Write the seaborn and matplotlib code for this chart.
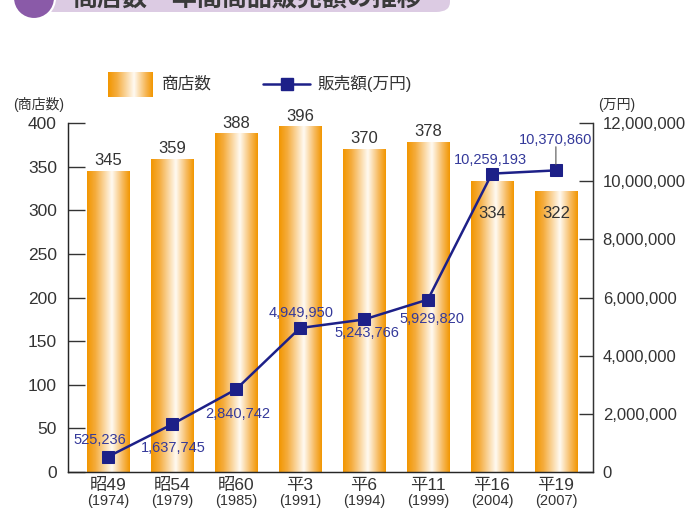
import numpy as np
import pandas as pd
import seaborn as sns
import matplotlib.pyplot as plt
from matplotlib.colors import LinearSegmentedColormap
from matplotlib.lines import Line2D
from matplotlib.patches import Ellipse, FancyBboxPatch
from matplotlib.ticker import FuncFormatter, FixedLocator

eras = ['昭49', '昭54', '昭60', '平3', '平6', '平11', '平16', '平19']
years = ['(1974)', '(1979)', '(1985)', '(1991)', '(1994)', '(1999)', '(2004)', '(2007)']
stores = [345, 359, 388, 396, 370, 378, 334, 322]
sales = [525236, 1637745, 2840742, 4949950, 5243766, 5929820, 10259193, 10370860]
# label offsets in points (dx, dy) for the sales labels
sales_offsets = [(-6, 12), (1, -17), (1, -18), (1, 11), (2, -10), (3, -14), (-1, 10), (0, 22)]

sns.set_style('white')
plt.rcParams['font.family'] = ['Liberation Sans', 'Noto Sans CJK JP', 'DejaVu Sans']

ORANGE = '#f29600'
NAVY = '#1d2088'
LABEL_BLUE = '#34399a'
GRAY = '#333333'
grad = LinearSegmentedColormap.from_list(
    'bar', [(0, ORANGE), (0.2, '#f5ad3f'), (0.58, '#fffaf2'), (0.85, '#f6b552'), (1, ORANGE)])

fig = plt.figure(figsize=(7, 5.08), dpi=100)
ax = fig.add_axes([68 / 700, 1 - 472 / 508, (593 - 68) / 700, (472 - 123) / 508])

df = pd.DataFrame({'era': eras, 'stores': stores})
sns.barplot(data=df, x='era', y='stores', ax=ax, width=0.66, color=ORANGE, saturation=1)

gimg = np.linspace(0, 1, 256).reshape(1, -1)
for p in list(ax.patches):
    x0, y0 = p.get_x(), p.get_y()
    w, h = p.get_width(), p.get_height()
    im = ax.imshow(gimg, cmap=grad, aspect='auto', extent=[x0, x0 + w, y0, y0 + h],
                   zorder=p.get_zorder())
    im.set_clip_path(p)
    p.set_facecolor('none')
    p.set_edgecolor('none')

ax.set_xlim(-0.625, 7.58)
ax.set_ylim(0, 400)
ax.set_yticks(range(0, 401, 50))
ax.set_xlabel('')
ax.set_ylabel('')
ax.set_xticks(range(len(eras)))
ax.set_xticklabels(eras, fontsize=12.5, color=GRAY)
ax.xaxis.set_minor_locator(FixedLocator(np.arange(0.5, 7, 1)))
ax.tick_params(axis='x', which='major', length=0, pad=4)
ax.tick_params(axis='x', which='minor', direction='in', length=5, width=1, color=GRAY)
ax.tick_params(axis='y', direction='in', length=12, width=1, pad=8, labelsize=12.5,
               color=GRAY, labelcolor=GRAY, left=True)
for i, y in enumerate(years):
    ax.annotate(y, (i, 0), xycoords=('data', 'axes fraction'), xytext=(0, -21),
                textcoords='offset points', ha='center', va='center', fontsize=10.5, color=GRAY)

ax.spines['top'].set_visible(False)
for s in ['left', 'bottom', 'right']:
    ax.spines[s].set_color(GRAY)
    ax.spines[s].set_linewidth(1)

for i, v in enumerate(stores):
    if i < 6:
        ax.annotate(str(v), (i, v), xytext=(0, 2), textcoords='offset points',
                    ha='center', va='bottom', fontsize=12, color=GRAY)
    else:
        ax.annotate(str(v), (i, 296), ha='center', va='center', fontsize=12, color=GRAY)

ax2 = ax.twinx()
ax2.set_position(ax.get_position())
sns.lineplot(x=np.arange(len(sales)), y=sales, ax=ax2, color=NAVY, linewidth=1.8,
             marker='s', markersize=8, markeredgecolor=NAVY, markerfacecolor=NAVY)
ax2.set_ylim(0, 12000000)
ax2.set_xlim(-0.625, 7.58)
ax2.set_yticks(range(0, 12000001, 2000000))
ax2.yaxis.set_major_formatter(FuncFormatter(lambda v, _: f'{int(v):,}'))
ax2.tick_params(axis='y', direction='in', length=10, width=1, pad=7, labelsize=12,
                color=GRAY, labelcolor=GRAY, right=True)
ax2.spines['top'].set_visible(False)
ax2.spines['right'].set_color(GRAY)
for i, (v, off) in enumerate(zip(sales, sales_offsets)):
    ax2.annotate(f'{v:,}', (i, v), xytext=off, textcoords='offset points',
                 ha='center', va='center', fontsize=10.5, color=LABEL_BLUE)
ax2.annotate('', (7, sales[7]), xytext=(0, 17), textcoords='offset points',
             arrowprops=dict(arrowstyle='-', color='#555555', lw=0.8, shrinkA=0, shrinkB=4))

# axis units
fig.text(39 / 700, 1 - 105 / 508, '(商店数)', ha='center', va='center', fontsize=10, color=GRAY)
fig.text(598 / 700, 1 - 105 / 508, '(万円)', ha='left', va='center', fontsize=10, color=GRAY)

# legend
lax = fig.add_axes([108 / 700, 1 - 97 / 508, 45 / 700, 25 / 508])
lax.imshow(gimg, cmap=grad, aspect='auto')
lax.axis('off')
fig.text(162 / 700, 1 - 84 / 508, '商店数', ha='left', va='center', fontsize=12, color=GRAY)
fig.add_artist(Line2D([263 / 700, 310 / 700], [1 - 84 / 508] * 2, color=NAVY, lw=1.8,
                      transform=fig.transFigure))
fig.add_artist(Line2D([286.5 / 700], [1 - 84 / 508], color=NAVY, marker='s', markersize=8,
                      transform=fig.transFigure))
fig.text(318 / 700, 1 - 84 / 508, '販売額(万円)', ha='left', va='center', fontsize=12, color=GRAY)

# title banner (cut off at the top)
fig.add_artist(FancyBboxPatch((40 / 700, 1 - 12 / 508), 410 / 700, 40 / 508,
                              boxstyle='round,pad=0,rounding_size=0.02',
                              facecolor='#dccbe3', edgecolor='none', transform=fig.transFigure))
fig.add_artist(Ellipse((34 / 700, 1 + 2 / 508), 42 / 700, 42 / 508, facecolor='#8a5aa8',
                       edgecolor='white', lw=1.5, transform=fig.transFigure))
fig.text(72 / 700, 1 + 1 / 508, '商店数・年間商品販売額の推移', ha='left', va='center',
         fontsize=18, fontweight='bold', color='#3a3a3a')

fig.savefig('out.png', dpi=100)
